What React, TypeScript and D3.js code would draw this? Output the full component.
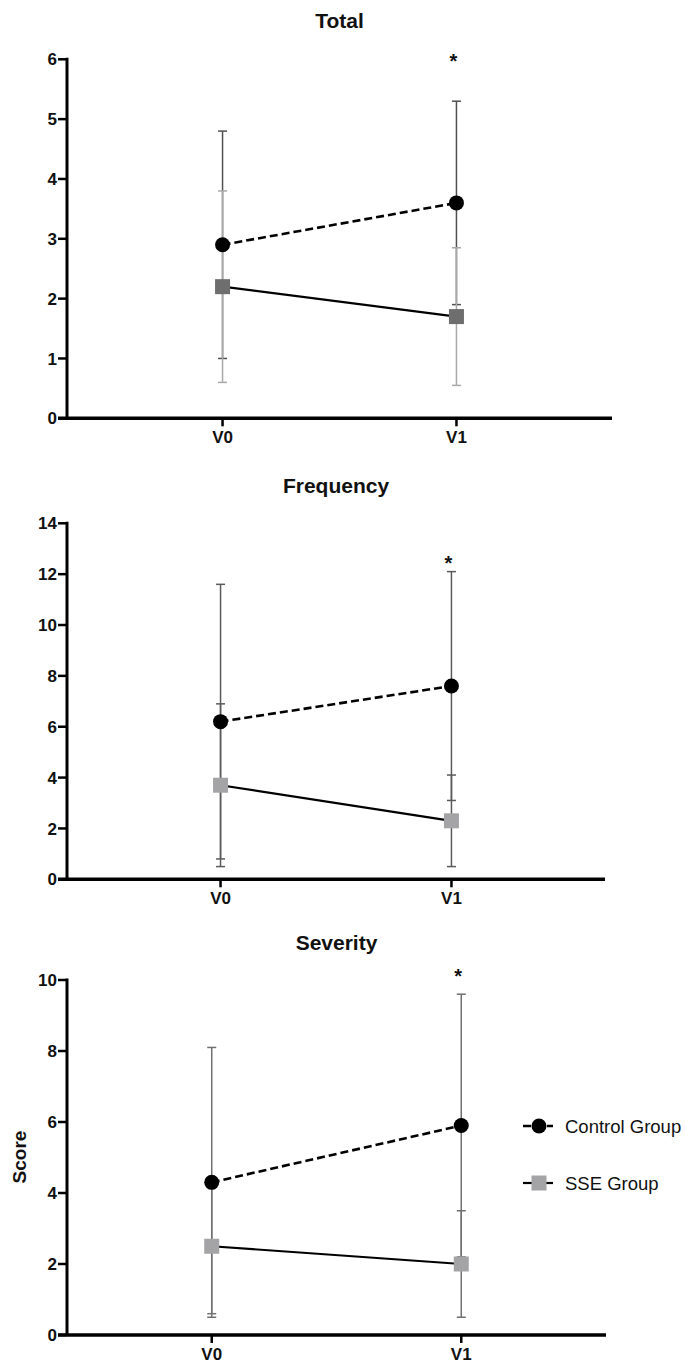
import React from "react";
import * as d3 from "d3";

// Visits on the x axis
const visits = ["V0", "V1"];

// Total score: mean and SD per visit
const totalControlMean = [2.9, 3.6];
const totalControlSD = [1.9, 1.7];
const totalSseMean = [2.2, 1.7];
const totalSseSD = [1.6, 1.15];
const totalTicks = [0, 1, 2, 3, 4, 5, 6];

// Frequency score
const freqControlMean = [6.2, 7.6];
const freqControlSD = [5.4, 4.5];
const freqSseMean = [3.7, 2.3];
const freqSseSD = [3.2, 1.8];
const freqTicks = [0, 2, 4, 6, 8, 10, 12, 14];

// Severity score
const sevControlMean = [4.3, 5.9];
const sevControlSD = [3.8, 3.7];
const sevSseMean = [2.5, 2.0];
const sevSseSD = [1.9, 1.5];
const sevTicks = [0, 2, 4, 6, 8, 10];

// Significance marker height (data units) per panel, at V1
const sigLevels = [6.04, 12.63, 10.25];

const panelTitles = ["Total", "Frequency", "Severity"];
const legendLabels = ["Control Group", "SSE Group"];

const FONT = "'Liberation Sans', Arial, Helvetica, sans-serif";

type PanelProps = {
  title: string;
  ticks: number[];
  controlMean: number[];
  controlSD: number[];
  sseMean: number[];
  sseSD: number[];
  sig: number;
  top: number;
  bottom: number;
  right: number;
  padding: number;
  titleY: number;
  controlBar: string;
  sseBar: string;
  sseFill: string;
  yLabel?: string;
};

const AXIS_X = 67;

function Panel(p: PanelProps) {
  const x = d3.scalePoint<string>().domain(visits).range([AXIS_X, p.right]).padding(p.padding);
  const y = d3
    .scaleLinear()
    .domain([0, p.ticks[p.ticks.length - 1]])
    .range([p.bottom, p.top]);

  const controlPts = visits.map((v, i) => ({ v, m: p.controlMean[i], s: p.controlSD[i] }));
  const ssePts = visits.map((v, i) => ({ v, m: p.sseMean[i], s: p.sseSD[i] }));

  const line = d3
    .line<{ v: string; m: number }>()
    .x((d) => x(d.v) as number)
    .y((d) => y(d.m));

  const errBar = (d: { v: string; m: number; s: number }, color: string, key: string) => {
    const cx = x(d.v) as number;
    const y1 = y(d.m + d.s);
    const y0 = y(d.m - d.s);
    return (
      <g key={key} stroke={color} strokeWidth={1.5}>
        <line x1={cx} x2={cx} y1={y1} y2={y0} />
        <line x1={cx - 4.5} x2={cx + 4.5} y1={y1} y2={y1} />
        <line x1={cx - 4.5} x2={cx + 4.5} y1={y0} y2={y0} />
      </g>
    );
  };

  const cx = (p.right + AXIS_X) / 2;

  return (
    <g>
      <text
        x={cx}
        y={p.titleY}
        textAnchor="middle"
        fontFamily={FONT}
        fontWeight="bold"
        fontSize={21}
        fill="#111"
      >
        {p.title}
      </text>

      {/* y axis */}
      <line x1={AXIS_X} x2={AXIS_X} y1={p.top - 1.5} y2={p.bottom} stroke="#000" strokeWidth={3} />
      {p.ticks.map((t) => (
        <g key={t}>
          <line x1={AXIS_X - 9} x2={AXIS_X} y1={y(t)} y2={y(t)} stroke="#000" strokeWidth={2.5} />
          <text
            x={AXIS_X - 10}
            y={y(t)}
            dy="0.36em"
            textAnchor="end"
            fontFamily={FONT}
            fontWeight="bold"
            fontSize={17}
            fill="#111"
          >
            {t}
          </text>
        </g>
      ))}

      {/* x axis */}
      <line x1={AXIS_X - 9} x2={p.right} y1={p.bottom} y2={p.bottom} stroke="#000" strokeWidth={3.5} />
      {visits.map((v) => (
        <g key={v}>
          <line
            x1={x(v) as number}
            x2={x(v) as number}
            y1={p.bottom}
            y2={p.bottom + 8}
            stroke="#000"
            strokeWidth={2.5}
          />
          <text
            x={x(v) as number}
            y={p.bottom + 19}
            dy="0.36em"
            textAnchor="middle"
            fontFamily={FONT}
            fontWeight="bold"
            fontSize={17}
            fill="#111"
          >
            {v}
          </text>
        </g>
      ))}

      {/* error bars */}
      {controlPts.map((d, i) => errBar(d, p.controlBar, "c" + i))}
      {ssePts.map((d, i) => errBar(d, p.sseBar, "s" + i))}

      {/* connecting lines */}
      <path d={line(controlPts) || ""} fill="none" stroke="#000" strokeWidth={2.6} strokeDasharray="8,4" />
      <path d={line(ssePts) || ""} fill="none" stroke="#000" strokeWidth={2.2} />

      {/* markers */}
      {ssePts.map((d, i) => (
        <rect
          key={"sq" + i}
          x={(x(d.v) as number) - 7.5}
          y={y(d.m) - 7.5}
          width={15}
          height={15}
          fill={p.sseFill}
        />
      ))}
      {controlPts.map((d, i) => (
        <circle key={"ci" + i} cx={x(d.v) as number} cy={y(d.m)} r={7.5} fill="#000" />
      ))}

      {/* significance */}
      <text
        x={(x(visits[1]) as number) - 3}
        y={y(p.sig)}
        dy="0.57em"
        textAnchor="middle"
        fontFamily={FONT}
        fontWeight="bold"
        fontSize={20}
        fill="#111"
      >
        *
      </text>

      {p.yLabel && (
        <text
          transform={`translate(19,${(p.top + p.bottom) / 2 - 0.5}) rotate(-90)`}
          dy="0.36em"
          textAnchor="middle"
          fontFamily={FONT}
          fontWeight="bold"
          fontSize={19}
          fill="#111"
        >
          {p.yLabel}
        </text>
      )}
    </g>
  );
}

export default function App() {
  const legendX = 539;
  const legendY = [1126, 1183];
  return (
    <svg
      width={685}
      height={1364}
      style={{ position: "absolute", left: 0, top: 0, background: "#fff" }}
    >
      <rect width={685} height={1364} fill="#fff" />
      <Panel
        title={panelTitles[0]}
        ticks={totalTicks}
        controlMean={totalControlMean}
        controlSD={totalControlSD}
        sseMean={totalSseMean}
        sseSD={totalSseSD}
        sig={sigLevels[0]}
        top={59.3}
        bottom={418.3}
        right={612}
        padding={0.665}
        titleY={28}
        controlBar="#505050"
        sseBar="#a8a8a8"
        sseFill="#6e6e6e"
      />
      <Panel
        title={panelTitles[1]}
        ticks={freqTicks}
        controlMean={freqControlMean}
        controlSD={freqControlSD}
        sseMean={freqSseMean}
        sseSD={freqSseSD}
        sig={sigLevels[1]}
        top={523.3}
        bottom={879.3}
        right={605}
        padding={0.665}
        titleY={493}
        controlBar="#5a5a5a"
        sseBar="#5a5a5a"
        sseFill="#a4a4a6"
      />
      <Panel
        title={panelTitles[2]}
        ticks={sevTicks}
        controlMean={sevControlMean}
        controlSD={sevControlSD}
        sseMean={sevSseMean}
        sseSD={sevSseSD}
        sig={sigLevels[2]}
        top={980}
        bottom={1335}
        right={606}
        padding={0.58}
        titleY={950}
        controlBar="#707070"
        sseBar="#707070"
        sseFill="#a4a4a6"
        yLabel="Score"
      />

      {/* legend */}
      <g>
        <line x1={legendX - 16} x2={legendX + 14} y1={legendY[0]} y2={legendY[0]} stroke="#000" strokeWidth={2.4} strokeDasharray="8,4" />
        <circle cx={legendX} cy={legendY[0]} r={7.5} fill="#000" />
        <text x={565} y={legendY[0]} dy="0.36em" fontFamily={FONT} fontSize={18.5} fill="#111">
          {legendLabels[0]}
        </text>
        <line x1={legendX - 16} x2={legendX + 14} y1={legendY[1]} y2={legendY[1]} stroke="#000" strokeWidth={2.2} />
        <rect x={legendX - 7.5} y={legendY[1] - 7.5} width={15} height={15} fill="#a4a4a6" />
        <text x={565} y={legendY[1]} dy="0.36em" fontFamily={FONT} fontSize={18.5} fill="#111">
          {legendLabels[1]}
        </text>
      </g>
    </svg>
  );
}
